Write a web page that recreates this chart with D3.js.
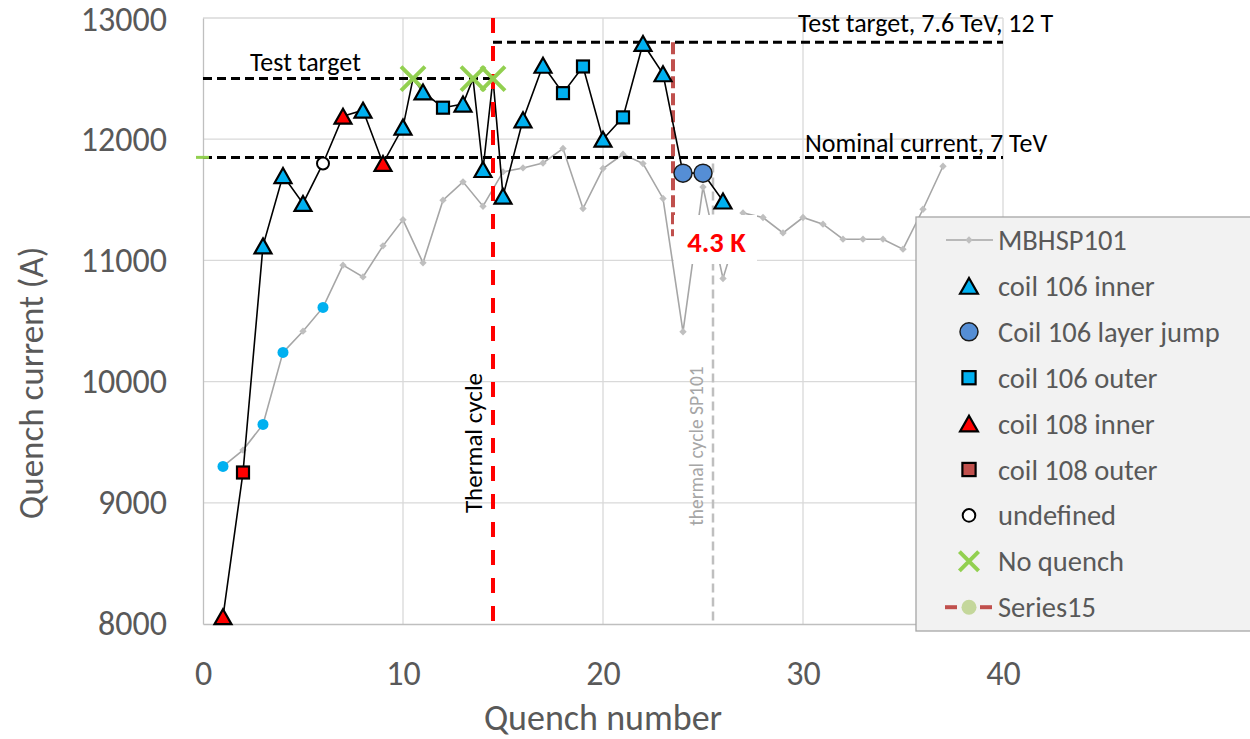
<!DOCTYPE html>
<html>
<head>
<meta charset="utf-8">
<script src="https://cdn.jsdelivr.net/npm/d3@7"></script>
<style>
  html, body { margin: 0; padding: 0; background: #ffffff; }
  svg { display: block; }
</style>
</head>
<body>
<svg id="chart" width="1250" height="739"></svg>
<script>
// ---- axis ticks ----
const xTicks = [0, 10, 20, 30, 40];
const yTicks = [8000, 9000, 10000, 11000, 12000, 13000];

// ---- reference magnet MBHSP101: quench number and quench current (A) ----
const refQuench = [1, 2, 3, 4, 5, 6, 7, 8, 9, 10, 11, 12, 13, 14, 15, 16, 17, 18, 19,
  20, 21, 22, 23, 24, 25, 26, 27, 28, 29, 30, 31, 32, 33, 34, 35, 36, 37];
const refCurrent = [9300, 9435, 9647, 10241, 10416, 10612, 10961, 10864, 11120, 11335,
  10980, 11497, 11648, 11447, 11730, 11763, 11804, 11923, 11428, 11758, 11876, 11799,
  11511, 10411, 11606, 10851, 11392, 11354, 11227, 11354, 11299, 11175, 11175, 11175,
  11093, 11422, 11777];
// quenches of MBHSP101 shown with a highlighted marker
const refHighlighted = [1, 3, 4, 6];

// ---- training of the magnet under test (coils 106 / 108) ----
const trainQuench = [1, 2, 3, 4, 5, 6, 7, 8, 9, 10, 10.5, 11, 12, 13, 13.5, 14, 14.5,
  15, 16, 17, 18, 19, 20, 21, 22, 23, 24, 25, 26];
const trainCurrent = [8060, 9250, 11120, 11700, 11470, 11800, 12190, 12240, 11800, 12100,
  12500, 12390, 12260, 12290, 12500, 11750, 12500, 11530, 12160, 12610, 12380, 12600,
  12000, 12180, 12790, 12540, 11720, 11720, 11490];
const trainOrigin = ["c108i", "c108o", "c106i", "c106i", "c106i", "undef", "c108i", "c106i",
  "c108i", "c106i", "noq", "c106i", "c106o", "c106i", "noq", "c106i", "noq", "c106i",
  "c106i", "c106i", "c106o", "c106o", "c106i", "c106o", "c106i", "c106i", "jump", "jump",
  "c106i"];

// ---- reference levels (A) and events (quench number) ----
const levelNames = ["Test target", "Test target, 7.6 TeV, 12 T", "Nominal current, 7 TeV"];
const levelCurrent = [12500, 12800, 11850];
const levelFrom = [0, 14.5, 0];
const levelTo = [14.5, 40, 40];
const thermalCycleAt = 14.5;
const thermalCycleSP101At = 25.5;
const thermalCycleSP101Top = 11800;
const series15At = 23.5;
const series15Current = [12800, 11200];
const tempLabel = "4.3 K";

// ---- legend ----
const legendNames = ["MBHSP101", "coil 106 inner", "Coil 106 layer jump", "coil 106 outer",
  "coil 108 inner", "coil 108 outer", "undefined", "No quench", "Series15"];
const legendKeys = ["ref", "c106i", "jump", "c106o", "c108i", "c108o", "undef", "noq", "s15"];

// ================= drawing =================
const FONT = "Carlito, Calibri, Lato, 'Open Sans', sans-serif";
const svg = d3.select("#chart").attr("font-family", FONT);
const plot = { left: 203, right: 1003, top: 18, bottom: 624 };

const x = d3.scaleLinear().domain([0, 40]).range([plot.left, plot.right]);
const y = d3.scaleLinear().domain([8000, 13000]).range([plot.bottom, plot.top]);

// marker appearance per point origin
const markerStyle = {
  c106i: { shape: "tri", fill: "#00B0F0", size: 17 },
  c108i: { shape: "tri", fill: "#FF0000", size: 17 },
  c106o: { shape: "sq", fill: "#00B0F0", size: 12 },
  c108o: { shape: "sq", fill: "#FF0000", legendFill: "#C0504D", size: 12 },
  jump: { shape: "circ", fill: "#558ED5", size: 18 },
  undef: { shape: "circ", fill: "#FFFFFF", size: 12 },
  noq: { shape: "cross", fill: "#92D050", size: 24 }
};

function drawMarker(g, key, cx, cy, scale, forLegend) {
  const st = markerStyle[key];
  const s = st.size * scale;
  const fill = forLegend && st.legendFill ? st.legendFill : st.fill;
  if (st.shape === "tri") {
    const w = s, h = s * 0.88;
    g.append("path")
      .attr("d", `M${cx},${cy - h / 2}L${cx + w / 2},${cy + h / 2}L${cx - w / 2},${cy + h / 2}Z`)
      .attr("fill", fill).attr("stroke", "#000").attr("stroke-width", 2.2)
      .attr("stroke-linejoin", "miter");
  } else if (st.shape === "sq") {
    g.append("rect").attr("x", cx - s / 2).attr("y", cy - s / 2)
      .attr("width", s).attr("height", s)
      .attr("fill", fill).attr("stroke", "#000").attr("stroke-width", 2.2);
  } else if (st.shape === "circ") {
    g.append("circle").attr("cx", cx).attr("cy", cy).attr("r", s / 2)
      .attr("fill", fill).attr("stroke", key === "undef" ? "#000" : "#1a1a1a")
      .attr("stroke-width", key === "undef" ? 2 : 1.5);
  } else if (st.shape === "cross") {
    const r = s / 2;
    g.append("path")
      .attr("d", `M${cx - r},${cy - r}L${cx + r},${cy + r}M${cx - r},${cy + r}L${cx + r},${cy - r}`)
      .attr("stroke", fill).attr("stroke-width", 4).attr("fill", "none");
  }
}

// ---- gridlines ----
const grid = svg.append("g");
grid.selectAll("line.gh").data(yTicks.filter(v => v > 8000)).join("line")
  .attr("class", "gh")
  .attr("x1", plot.left).attr("x2", plot.right)
  .attr("y1", d => y(d)).attr("y2", d => y(d))
  .attr("stroke", "#D9D9D9").attr("stroke-width", 1.3);
grid.selectAll("line.gv").data(xTicks.filter(v => v > 0)).join("line")
  .attr("class", "gv")
  .attr("x1", d => x(d)).attr("x2", d => x(d))
  .attr("y1", plot.top).attr("y2", plot.bottom)
  .attr("stroke", "#D9D9D9").attr("stroke-width", 1.3);

// ---- axes ----
const yAxis = svg.append("g").attr("transform", `translate(${plot.left},0)`)
  .call(d3.axisLeft(y).tickValues(yTicks).tickSize(0).tickPadding(36).tickFormat(d3.format("d")));
const xAxis = svg.append("g").attr("transform", `translate(0,${plot.bottom})`)
  .call(d3.axisBottom(x).tickValues(xTicks).tickSize(0).tickPadding(37).tickFormat(d3.format("d")));
[yAxis, xAxis].forEach(a => {
  a.attr("font-family", FONT).attr("font-size", null);
  a.select(".domain").attr("stroke", "#BFBFBF").attr("stroke-width", 1.3);
  a.selectAll("text").attr("font-size", 34).attr("fill", "#595959");
});
// keep the top current label inside the canvas
yAxis.selectAll(".tick").filter(d => d === 13000).select("text").attr("dy", "0.38em");

svg.append("text")
  .attr("transform", "translate(43,383) rotate(-90)")
  .attr("text-anchor", "middle").attr("font-size", 35).attr("fill", "#595959")
  .text("Quench current (A)");
svg.append("text")
  .attr("x", x(20)).attr("y", 730)
  .attr("text-anchor", "middle").attr("font-size", 36).attr("fill", "#595959")
  .text("Quench number");

// ---- MBHSP101 reference curve ----
const refData = refQuench.map((q, i) => ({ q, v: refCurrent[i] }));
svg.append("path").datum(refData)
  .attr("d", d3.line().x(d => x(d.q)).y(d => y(d.v)))
  .attr("fill", "none").attr("stroke", "#A6A6A6").attr("stroke-width", 1.6);
const refPts = svg.append("g");
refData.forEach(d => {
  if (refHighlighted.includes(d.q)) {
    refPts.append("circle").attr("cx", x(d.q)).attr("cy", y(d.v)).attr("r", 5.5)
      .attr("fill", "#00B0F0");
  } else {
    refPts.append("path")
      .attr("transform", `translate(${x(d.q)},${y(d.v)}) rotate(45)`)
      .attr("d", "M-2.6,-2.6H2.6V2.6H-2.6Z").attr("fill", "#BFBFBF");
  }
});

// ---- reference levels ----
const levels = svg.append("g");
levelCurrent.forEach((v, i) => {
  levels.append("line")
    .attr("x1", x(levelFrom[i])).attr("x2", x(levelTo[i]))
    .attr("y1", y(v)).attr("y2", y(v))
    .attr("stroke", "#000").attr("stroke-width", 3).attr("stroke-dasharray", "9,5");
});
// small marker of the nominal current on the current axis
svg.append("line")
  .attr("x1", plot.left - 7).attr("x2", plot.left + 6)
  .attr("y1", y(levelCurrent[2])).attr("y2", y(levelCurrent[2]))
  .attr("stroke", "#92D050").attr("stroke-width", 3);

// ---- thermal cycles ----
svg.append("line")
  .attr("x1", x(thermalCycleSP101At)).attr("x2", x(thermalCycleSP101At))
  .attr("y1", y(thermalCycleSP101Top)).attr("y2", y(8000))
  .attr("stroke", "#BFBFBF").attr("stroke-width", 2.5).attr("stroke-dasharray", "9,5");
svg.append("line")
  .attr("x1", x(series15At)).attr("x2", x(series15At))
  .attr("y1", y(series15Current[0])).attr("y2", y(series15Current[1]))
  .attr("stroke", "#C0504D").attr("stroke-width", 4).attr("stroke-dasharray", "12,5");

// ---- training curve ----
const trainData = trainQuench.map((q, i) => ({ q, v: trainCurrent[i], k: trainOrigin[i] }));
svg.append("path").datum(trainData)
  .attr("d", d3.line().x(d => x(d.q)).y(d => y(d.v)))
  .attr("fill", "none").attr("stroke", "#000").attr("stroke-width", 1.6);

svg.append("line")
  .attr("x1", x(thermalCycleAt)).attr("x2", x(thermalCycleAt))
  .attr("y1", plot.top).attr("y2", plot.bottom + 3)
  .attr("stroke", "#FF0000").attr("stroke-width", 4).attr("stroke-dasharray", "15,13");

const trainPts = svg.append("g");
trainData.forEach(d => drawMarker(trainPts, d.k, x(d.q), y(d.v), 1, false));

// ---- annotations ----
const ann = svg.append("g").attr("fill", "#000").attr("font-size", 26);
ann.append("text").attr("x", 250).attr("y", 71).text(levelNames[0]);
ann.append("text").attr("x", 798).attr("y", 32).text(levelNames[1]);
ann.append("text").attr("x", 805).attr("y", 152).text(levelNames[2]);
ann.append("text")
  .attr("transform", `translate(${x(thermalCycleAt) - 11},443) rotate(-90)`)
  .attr("text-anchor", "middle").attr("font-size", 25).text("Thermal cycle");
svg.append("text")
  .attr("transform", `translate(${x(thermalCycleSP101At) - 10},446) rotate(-90)`)
  .attr("text-anchor", "middle").attr("font-size", 19.5).attr("fill", "#A6A6A6")
  .text("thermal cycle SP101");

svg.append("rect").attr("x", 674).attr("y", 215).attr("width", 83).attr("height", 49)
  .attr("fill", "#FFFFFF");
svg.append("text").attr("x", 716.5).attr("y", 252)
  .attr("text-anchor", "middle").attr("font-size", 28.5).attr("font-weight", "bold")
  .attr("fill", "#FF0000").text(tempLabel);

// ---- legend ----
const lg = svg.append("g");
lg.append("rect").attr("x", 916).attr("y", 217).attr("width", 340).attr("height", 414)
  .attr("fill", "#F2F2F2").attr("stroke", "#A6A6A6").attr("stroke-width", 1.3);
const rowY = i => 240 + i * 45.9;
const symX = 969;
legendKeys.forEach((k, i) => {
  const cy = rowY(i);
  if (k === "ref") {
    lg.append("line").attr("x1", 946).attr("x2", 993).attr("y1", cy).attr("y2", cy)
      .attr("stroke", "#A6A6A6").attr("stroke-width", 1.6);
    lg.append("path").attr("transform", `translate(${symX},${cy}) rotate(45)`)
      .attr("d", "M-2.6,-2.6H2.6V2.6H-2.6Z").attr("fill", "#BFBFBF");
  } else if (k === "s15") {
    lg.append("line").attr("x1", 945).attr("x2", 957).attr("y1", cy).attr("y2", cy)
      .attr("stroke", "#C0504D").attr("stroke-width", 4);
    lg.append("line").attr("x1", 980).attr("x2", 992).attr("y1", cy).attr("y2", cy)
      .attr("stroke", "#C0504D").attr("stroke-width", 4);
    lg.append("circle").attr("cx", symX).attr("cy", cy).attr("r", 7.5).attr("fill", "#C4D79B");
  } else {
    const sc = k === "jump" ? 1 : (k === "noq" ? 0.8 : (markerStyle[k].shape === "sq" ? 1.1 : 1.05));
    drawMarker(lg, k, symX, cy, sc, true);
  }
  lg.append("text").attr("x", 998).attr("y", cy + 10)
    .attr("font-size", 28.5).attr("fill", "#595959").text(legendNames[i]);
});
</script>
</body>
</html>
